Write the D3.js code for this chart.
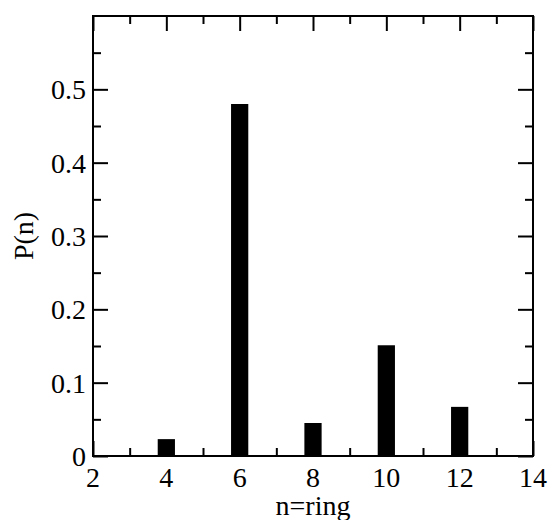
<!DOCTYPE html>
<html>
<head>
<meta charset="utf-8">
<script src="https://cdn.jsdelivr.net/npm/d3@7"></script>
<style>
  body { margin: 0; background: #fff; }
  svg text { font-family: "Liberation Serif", "DejaVu Serif", serif; fill: #000; }
</style>
</head>
<body>
<svg width="550" height="520"></svg>
<script>
// ring size distribution
var ringSizes = [4, 6, 8, 10, 12];
var probs = [0.023, 0.48, 0.045, 0.151, 0.067];
var xTicks = [2, 4, 6, 8, 10, 12, 14];
var yTicks = [0, 0.1, 0.2, 0.3, 0.4, 0.5];
var yTickLabels = ['0', '0.1', '0.2', '0.3', '0.4', '0.5'];

var width = 550;
var height = 520;
var margin = { top: 16, bottom: 64, left: 93, right: 17 };
var fontSize = 28;

var svg = d3.select('svg');

// Setup scales
var xScale = d3.scaleLinear().domain([2, 14]).range([margin.left, width - margin.right]);
var yScale = d3.scaleLinear().domain([0, 0.6]).range([height - margin.bottom, margin.top]);

var barWidth = xScale(2.47) - xScale(2);

// bars
svg.selectAll('rect.bar').data(ringSizes).enter().append('rect')
  .attr('class', 'bar')
  .attr('x', d => xScale(d) - barWidth / 2)
  .attr('width', barWidth)
  .attr('y', (d, i) => yScale(probs[i]))
  .attr('height', (d, i) => yScale(0) - yScale(probs[i]))
  .attr('fill', '#000');

// Axes: ticks point inward, mirrored on all four sides
var x0 = margin.left, x1 = width - margin.right;
var y0 = height - margin.bottom, y1 = margin.top;
var xMinor = d3.range(3, 14, 2);
var yMinor = d3.range(0.05, 0.6, 0.1);

function styleAxis(g) {
  g.select('.domain').remove();
  g.selectAll('line').attr('stroke', '#000').attr('stroke-width', 2);
}

// bottom
svg.append('g').attr('transform', 'translate(0,' + y0 + ')')
  .call(d3.axisTop(xScale).tickValues(xTicks).tickSize(15).tickFormat(''))
  .call(styleAxis);
svg.append('g').attr('transform', 'translate(0,' + y0 + ')')
  .call(d3.axisTop(xScale).tickValues(xMinor).tickSize(8).tickFormat(''))
  .call(styleAxis);
// top
svg.append('g').attr('transform', 'translate(0,' + y1 + ')')
  .call(d3.axisBottom(xScale).tickValues(xTicks).tickSize(15).tickFormat(''))
  .call(styleAxis);
svg.append('g').attr('transform', 'translate(0,' + y1 + ')')
  .call(d3.axisBottom(xScale).tickValues(xMinor).tickSize(8).tickFormat(''))
  .call(styleAxis);
// left
svg.append('g').attr('transform', 'translate(' + x0 + ',0)')
  .call(d3.axisRight(yScale).tickValues(yTicks).tickSize(15).tickFormat(''))
  .call(styleAxis);
svg.append('g').attr('transform', 'translate(' + x0 + ',0)')
  .call(d3.axisRight(yScale).tickValues(yMinor).tickSize(8).tickFormat(''))
  .call(styleAxis);
// right
svg.append('g').attr('transform', 'translate(' + x1 + ',0)')
  .call(d3.axisLeft(yScale).tickValues(yTicks).tickSize(15).tickFormat(''))
  .call(styleAxis);
svg.append('g').attr('transform', 'translate(' + x1 + ',0)')
  .call(d3.axisLeft(yScale).tickValues(yMinor).tickSize(8).tickFormat(''))
  .call(styleAxis);

// frame
svg.append('rect')
  .attr('x', x0).attr('y', y1)
  .attr('width', x1 - x0).attr('height', y0 - y1)
  .attr('fill', 'none').attr('stroke', '#000').attr('stroke-width', 2);

// tick labels
svg.selectAll('text.xlab').data(xTicks).enter().append('text')
  .attr('class', 'xlab')
  .attr('x', d => xScale(d))
  .attr('y', 487)
  .attr('text-anchor', 'middle')
  .attr('font-size', fontSize)
  .text(d => d);

svg.selectAll('text.ylab').data(yTicks).enter().append('text')
  .attr('class', 'ylab')
  .attr('x', 86)
  .attr('y', d => yScale(d) + 10)
  .attr('text-anchor', 'end')
  .attr('font-size', fontSize)
  .text((d, i) => yTickLabels[i]);

// axis titles
svg.append('text')
  .attr('x', (x0 + x1) / 2)
  .attr('y', 515)
  .attr('text-anchor', 'middle')
  .attr('font-size', fontSize)
  .text('n=ring');

svg.append('text')
  .attr('transform', 'translate(33,' + (y0 + y1) / 2 + ') rotate(-90)')
  .attr('text-anchor', 'middle')
  .attr('font-size', fontSize)
  .text('P(n)');
</script>
</body>
</html>
